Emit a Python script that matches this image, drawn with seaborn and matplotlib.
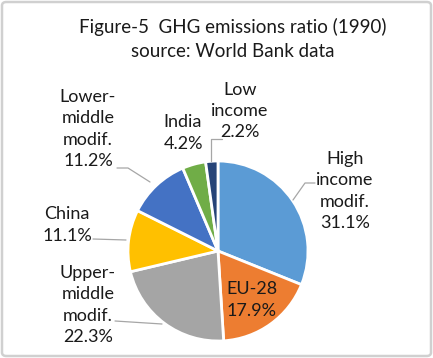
import matplotlib
matplotlib.use("Agg")
import matplotlib.pyplot as plt
import seaborn as sns
from matplotlib.patches import FancyBboxPatch
from matplotlib.lines import Line2D

# data, clockwise from 12 o'clock
groups = ["High\nincome\nmodif.", "EU-28", "Upper-\nmiddle\nmodif.", "China",
          "Lower-\nmiddle\nmodif.", "India", "Low\nincome"]
shares = [31.1, 17.9, 22.3, 11.1, 11.2, 4.2, 2.2]
colors = ["#5B9BD5", "#ED7D31", "#A5A5A5", "#FFC000", "#4472C4", "#70AD47", "#264478"]

title = "Figure-5  GHG emissions ratio (1990)\nsource: World Bank data"

sns.set_theme(style="white")
plt.rcParams["font.family"] = ["Lato", "DejaVu Sans"]

W, H = 433, 358
fig = plt.figure(figsize=(W / 100, H / 100), dpi=100)


def px(x, y):
    return x / W, 1 - y / H


# pie centre (218, 251), radius 90 px
cx, cy = px(218, 251)
r = 90
ax = fig.add_axes([cx - r / W, cy - r / H, 2 * r / W, 2 * r / H])
ax.pie(shares, colors=colors, startangle=90, counterclock=False,
       wedgeprops=dict(edgecolor="white", linewidth=2))
ax.set_xlim(-1, 1)
ax.set_ylim(-1, 1)
ax.set_aspect("equal")
ax.axis("off")

# label centres in pixels
label_pos = [(345, 191), (252, 300), (88, 305), (67, 225), (88, 129), (183, 133), (240, 111)]
for name, val, (x, y) in zip(groups, shares, label_pos):
    fig.text(*px(x, y), f"{name}\n{val}%", ha="center", va="center",
             fontsize=13, color="#1a1a1a", linespacing=1.42)

# leader lines
leaders = [
    [(315, 183), (305, 183), (293, 200)],
    [(115, 321), (162, 324)],
    [(93, 239), (126, 240)],
    [(117, 168), (128, 168), (150, 182)],
    [(222, 139), (211, 139), (211, 161)],
]
for pts in leaders:
    xs, ys = zip(*[px(a, b) for a, b in pts])
    fig.add_artist(Line2D(xs, ys, color="#A6A6A6", linewidth=0.9))

fig.text(*px(233, 39), title, ha="center", va="center", fontsize=13.5,
         color="#1a1a1a", linespacing=1.45)

border = FancyBboxPatch((2 / W, 2 / H), 1 - 4 / W, 1 - 4 / H,
                        boxstyle="round,pad=0,rounding_size=0.01",
                        transform=fig.transFigure, fill=False,
                        edgecolor="#D0D0D0", linewidth=1.8)
fig.add_artist(border)

fig.savefig("out.png", dpi=100)
